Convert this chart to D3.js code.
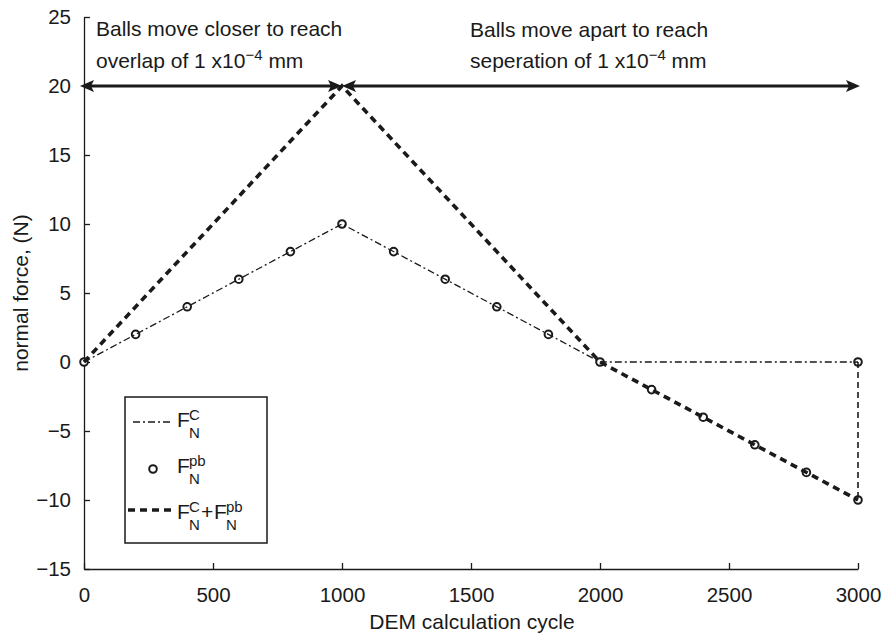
<!DOCTYPE html>
<html>
<head>
<meta charset="utf-8">
<script src="https://cdn.jsdelivr.net/npm/d3@7"></script>
<style>
  body { margin: 0; background: #fff; }
  svg text { font-family: "Liberation Sans", Arial, sans-serif; fill: #1a1a1a; }
</style>
</head>
<body>
<div id="container"></div>
<script>
// data
var cycles = [0,200,400,600,800,1000,1200,1400,1600,1800,2000,2200,2400,2600,2800,3000];
var forcePb = [0,2,4,6,8,10,8,6,4,2,0,-2,-4,-6,-8,-10];
var cyclesC = [0,1000,2000,3000];
var forceC = [0,10,0,0];
var cyclesSum = [0,1000,2000,3000];
var forceSum = [0,20,0,-10];
var jumpCycles = [3000,3000];
var jumpForce = [0,-10];
var phaseBounds = [0,1000,3000];
var arrowLevel = 20;
var xTicks = [0,500,1000,1500,2000,2500,3000];
var yTicks = [-15,-10,-5,0,5,10,15,20,25];

var width = 883;
var height = 633;
var ink = '#1a1a1a';

var svg = d3.select('#container').append('svg')
    .attr('width',width).attr('height',height);

var x = d3.scaleLinear().domain([0,3000]).range([84,858]);
var y = d3.scaleLinear().domain([-15,25]).range([569,17]);

// axes, ticks pointing inward
var xAxis = svg.append('g')
    .attr('transform','translate(0,'+y(-15)+')')
    .call(d3.axisBottom(x).tickValues(xTicks).tickFormat(d3.format('d'))
        .tickSize(-6).tickSizeOuter(0).tickPadding(18));
var yAxis = svg.append('g')
    .attr('transform','translate('+x(0)+',0)')
    .call(d3.axisLeft(y).tickValues(yTicks).tickSize(-6).tickSizeOuter(0).tickPadding(13));
[xAxis,yAxis].forEach(function(a){
    a.selectAll('path,line').attr('stroke',ink).attr('stroke-width',1.3);
    a.selectAll('text').style('font-size','20.5px').attr('fill',ink);
});

svg.append('text')
    .attr('x',472).attr('y',629)
    .attr('text-anchor','middle')
    .style('font-size','21px')
    .text('DEM calculation cycle');
svg.append('text')
    .attr('transform','translate(28,'+((y(25)+y(-15))/2)+') rotate(-90)')
    .attr('text-anchor','middle')
    .style('font-size','21px')
    .text('normal force, (N)');

// markers first so the lines sit on top
var pts = cycles.map(function(c,i){ return [c,forcePb[i]]; });
pts.push([cyclesC[cyclesC.length-1], forceC[forceC.length-1]]);
svg.append('g').selectAll('circle').data(pts).enter().append('circle')
    .attr('cx',function(d){ return x(d[0]); })
    .attr('cy',function(d){ return y(d[1]); })
    .attr('r',3.8)
    .attr('fill','#fff')
    .attr('stroke',ink)
    .attr('stroke-width',2);

var line = d3.line().x(function(d){ return x(d[0]); }).y(function(d){ return y(d[1]); });

svg.append('path')
    .datum(cyclesC.map(function(c,i){ return [c,forceC[i]]; }))
    .attr('d',line).attr('fill','none')
    .attr('stroke',ink).attr('stroke-width',1.3)
    .attr('stroke-dasharray','7,3,2,3');

svg.append('path')
    .datum(jumpCycles.map(function(c,i){ return [c,jumpForce[i]]; }))
    .attr('d',line).attr('fill','none')
    .attr('stroke',ink).attr('stroke-width',1.6)
    .attr('stroke-dasharray','6,4');

svg.append('path')
    .datum(cyclesSum.map(function(c,i){ return [c,forceSum[i]]; }))
    .attr('d',line).attr('fill','none')
    .attr('stroke',ink).attr('stroke-width',3.6)
    .attr('stroke-dasharray','7,5');

// double headed arrows for the two phases
function arrowHead(tipX,tipY,dir){
    var len = 14, half = 6;
    return 'M'+tipX+','+tipY+' L'+(tipX-dir*len)+','+(tipY-half)+
        ' L'+(tipX-dir*len+dir*3)+','+tipY+' L'+(tipX-dir*len)+','+(tipY+half)+'Z';
}
var ay = y(arrowLevel);
for(var i = 0; i < phaseBounds.length-1; i++){
    var x0 = x(phaseBounds[i]), x1 = x(phaseBounds[i+1]);
    if(i == 0) x0 -= 4;
    if(i == phaseBounds.length-2) x1 += 2;
    svg.append('line')
        .attr('x1',x0+6).attr('x2',x1-6)
        .attr('y1',ay).attr('y2',ay)
        .attr('stroke',ink).attr('stroke-width',3);
    svg.append('path').attr('d',arrowHead(x0,ay,-1)).attr('fill',ink);
    svg.append('path').attr('d',arrowHead(x1,ay,1)).attr('fill',ink);
}

// phase notes
function note(tx,ty,parts){
    var t = svg.append('text').attr('x',tx).attr('y',ty).style('font-size','21px');
    parts.forEach(function(p){
        var s = t.append('tspan').text(p[0]);
        if(p[1] == 'sup') s.attr('dy',-8).style('font-size','15px');
        if(p[1] == 'back') s.attr('dy',8);
    });
}
note(96,36,[['Balls move closer to reach']]);
note(96,68,[['overlap of 1 x10'],['\u22124','sup'],[' mm','back']]);
note(470,37,[['Balls move apart to reach']]);
note(470,68,[['seperation of 1 x10'],['\u22124','sup'],[' mm','back']]);

// legend
var legend = svg.append('g');
legend.append('rect')
    .attr('x',125).attr('y',397).attr('width',142).attr('height',146)
    .attr('fill','#fff').attr('stroke',ink).attr('stroke-width',1.5);

function fLabel(tx,ty,sup,sub){
    legend.append('text').attr('x',tx).attr('y',ty).style('font-size','21px').text('F');
    legend.append('text').attr('x',tx+12).attr('y',ty-7).style('font-size','15px').text(sup);
    legend.append('text').attr('x',tx+12).attr('y',ty+11).style('font-size','15px').text(sub);
}
legend.append('line').attr('x1',133).attr('x2',172).attr('y1',422).attr('y2',422)
    .attr('stroke',ink).attr('stroke-width',1.3).attr('stroke-dasharray','7,3,2,3');
fLabel(177,427,'C','N');

legend.append('circle').attr('cx',153).attr('cy',469).attr('r',3.8)
    .attr('fill','#fff').attr('stroke',ink).attr('stroke-width',2);
fLabel(177,473,'pb','N');

legend.append('line').attr('x1',128).attr('x2',172).attr('y1',510).attr('y2',510)
    .attr('stroke',ink).attr('stroke-width',3.6).attr('stroke-dasharray','7,5');
fLabel(177,519,'C','N');
legend.append('text').attr('x',201).attr('y',519).style('font-size','21px').text('+');
fLabel(214,519,'pb','N');
</script>
</body>
</html>
